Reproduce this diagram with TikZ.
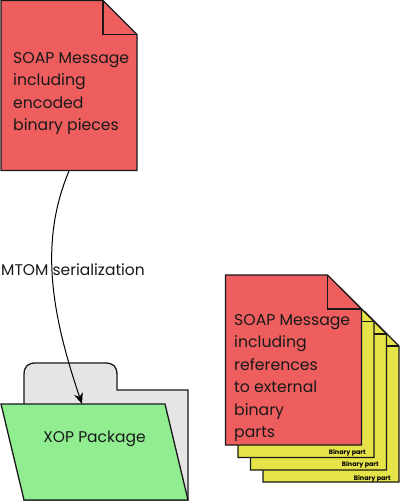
\documentclass[tikz,border=0pt]{standalone}
\usepackage{fontspec}
\setmainfont{Poppins}
\usetikzlibrary{arrows.meta}
\definecolor{docred}{HTML}{EF5E5E}
\definecolor{partyellow}{HTML}{E5E348}
\definecolor{foldergreen}{HTML}{90EE90}
\definecolor{foldergrey}{HTML}{E5E5E5}
\tikzset{
  shapeline/.style={draw=black!90,line width=1.3pt,line join=miter},
  doctext/.style={anchor=north west,inner sep=0pt,align=left,font=\fontsize{15.7}{22.5}\selectfont,text=black!90},
  parttext/.style={anchor=east,inner sep=0pt,font=\fontsize{6.4}{7}\selectfont\bfseries},
}
% #1 left, #2 top, #3 fill
\newcommand{\pagesheet}[3]{%
  \path[shapeline,fill=#3] (#1,#2) -- ++(102,0) -- ++(34,34) -- ++(0,136) -- ++(-136,0) -- cycle;
  \path[shapeline] (#1+102,#2) -- ++(0,34) -- ++(34,0);
}
\begin{document}
\begin{tikzpicture}[x=1pt,y=-1pt]
\useasboundingbox (0,0) rectangle (400,501);
% yellow stack
\pagesheet{263}{312}{partyellow}
\node[parttext] (p3) at (391,478.5) {Binary part};
\pagesheet{250.5}{300}{partyellow}
\node[parttext] (p2) at (379,464.5) {Binary part};
\pagesheet{238}{287.5}{partyellow}
\node[parttext] (p1) at (366,452.5) {Binary part};
% documents
\pagesheet{225.5}{275}{docred}
\node[doctext] (d2) at (234,314) {SOAP Message\\including\\references\\to external\\binary\\parts};
\pagesheet{1}{0.5}{docred}
\coordinate (d1out) at (69,171);
\node[doctext] (d1) at (13,52) {SOAP Message\\including\\encoded\\binary pieces};
% folder
\path[shapeline,fill=foldergrey] (24,500) -- (24,375) .. controls (24,366) and (28,363) .. (36,363) -- (105,363) .. controls (113,363) and (117,366) .. (117,375) -- (117,390) -- (188,390) -- (188,500) -- cycle;
\path[shapeline,fill=foldergreen] (1,404) -- (165,404) -- (188,500) -- (24,500) -- cycle;
\coordinate (folderin) at (82,404);
\node[inner sep=0pt,font=\fontsize{15.5}{20}\selectfont,text=black!90] (xop) at (94.5,439) {XOP Package};
% connector
\draw[line width=1pt,-{Stealth[length=11pt,width=9pt]}] (d1out) .. controls (40,240) and (50,310) .. (folderin);
\node[anchor=west,inner sep=0pt,font=\fontsize{15.5}{20}\selectfont,text=black!90] (lab) at (1,270) {MTOM serialization};
\end{tikzpicture}
\end{document}
